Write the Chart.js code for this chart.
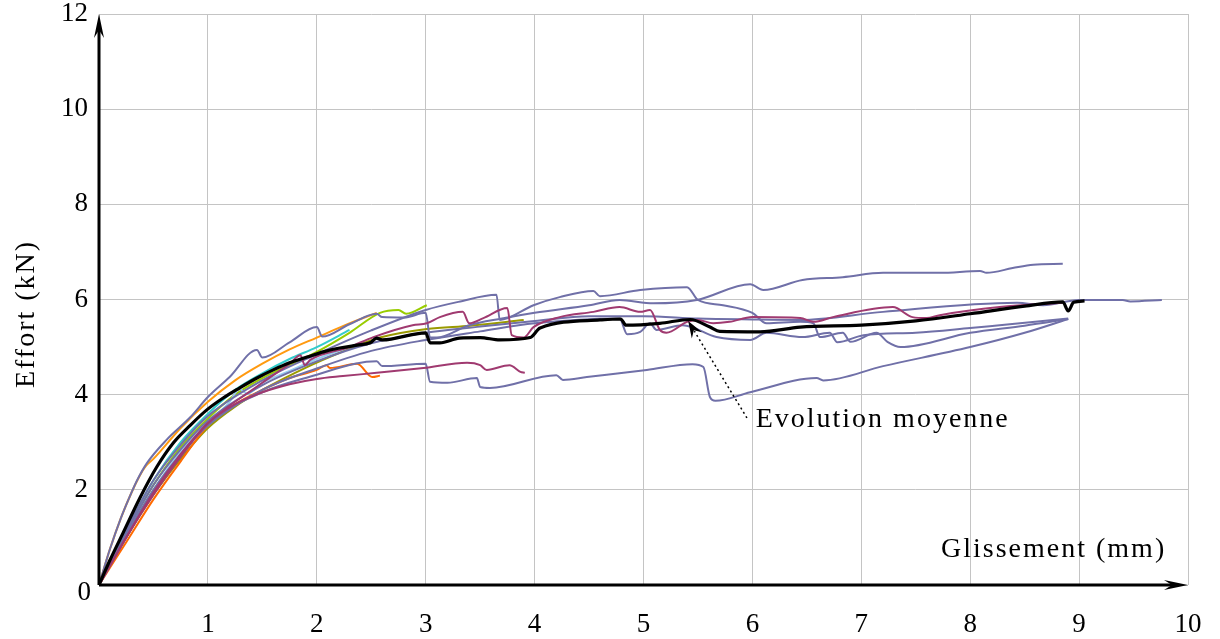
<!DOCTYPE html>
<html>
<head>
<meta charset="utf-8">
<script src="https://cdn.jsdelivr.net/npm/chart.js@4.4.0/dist/chart.umd.min.js"></script>
<style>
  html, body { margin: 0; padding: 0; background: #fff; }
  #wrap { width: 1220px; height: 639px; }
</style>
</head>
<body>
<div id="wrap"><canvas id="myChart" width="1220" height="639"></canvas></div>
<script>
// axes
const xMax = 10;
const yMax = 12;
const xStep = 1;
const yStep = 2;

// each curve: [glissement (mm), effort (kN)]
const meanCurve = [[0,0],[0.1,0.52],[0.22,1.09],[0.38,1.85],[0.53,2.48],[0.68,2.98],[0.84,3.36],[0.99,3.68],[1.14,3.93],[1.29,4.14],[1.45,4.35],[1.6,4.52],[1.75,4.67],[1.91,4.79],[2.06,4.9],[2.21,4.98],[2.37,5.04],[2.49,5.09],[2.55,5.19],[2.6,5.15],[3.0,5.3],[3.04,5.09],[3.13,5.09],[3.31,5.19],[3.5,5.2],[3.68,5.15],[3.96,5.2],[4.05,5.4],[4.6,5.57],[4.79,5.59],[4.84,5.46],[5.15,5.5],[5.43,5.58],[5.61,5.42],[5.7,5.33],[6.07,5.32],[6.44,5.42],[7.0,5.46],[7.5,5.55],[8.0,5.7],[8.5,5.86],[8.85,5.95],[8.9,5.76],[8.95,5.94],[9.05,5.97]];

const slate1 = [[0,0],[0.1,0.75],[0.2,1.4],[0.3,1.95],[0.35,2.2],[0.44,2.56],[0.62,3.05],[0.84,3.53],[1.0,3.95],[1.2,4.37],[1.45,4.94],[1.5,4.78],[1.75,5.1],[2.0,5.42],[2.05,5.22],[2.3,5.48],[2.55,5.7],[2.6,5.63],[2.8,5.62],[3.0,5.72],[3.04,5.2],[3.1,5.2],[3.4,5.46],[3.7,5.6],[4.0,5.72],[4.5,5.88],[4.78,5.99],[5.09,5.92],[5.49,5.99],[5.98,6.32],[6.1,6.2],[6.46,6.41],[6.83,6.47],[7.2,6.56],[7.72,6.56],[8.09,6.6],[8.15,6.56],[8.39,6.66],[8.58,6.73],[8.85,6.75]];
const slate2 = [[0,0],[0.25,1.15],[0.5,2.2],[0.75,2.95],[1.0,3.55],[1.5,4.3],[2.0,4.85],[2.5,5.35],[3.0,5.78],[3.3,5.95],[3.65,6.1],[3.68,5.57],[3.99,5.88],[4.23,6.05],[4.54,6.18],[4.6,6.07],[4.97,6.2],[5.4,6.26],[5.5,5.99],[5.73,5.88],[6.0,5.72],[6.13,5.5],[6.44,5.53],[6.56,5.5],[6.62,5.21],[6.83,5.3],[6.9,5.11],[7.14,5.3],[7.24,5.11],[7.36,5.0],[8.0,5.3],[8.5,5.45],[8.9,5.59]];
const slate3 = [[0,0],[0.25,1.1],[0.5,2.1],[0.75,2.85],[1.0,3.45],[1.5,4.2],[2.0,4.7],[2.5,5.08],[3.0,5.3],[3.5,5.43],[4.0,5.55],[4.5,5.65],[5.0,5.65],[5.5,5.6],[6.0,5.58],[6.44,5.57],[7.2,5.74],[8.43,5.93],[8.67,5.88],[9.0,5.99],[9.4,5.99],[9.47,5.96],[9.76,5.99]];
const slate4 = [[0,0],[0.25,1.05],[0.5,2.0],[0.75,2.75],[1.0,3.35],[1.5,4.1],[2.0,4.55],[2.5,4.92],[3.0,5.15],[3.5,5.33],[4.0,5.5],[4.78,5.6],[4.85,5.27],[4.97,5.32],[5.06,5.5],[5.12,5.36],[5.36,5.46],[5.67,5.21],[5.98,5.15],[6.13,5.3],[6.46,5.21],[6.71,5.3],[6.78,5.1],[7.02,5.25],[7.5,5.3],[8.0,5.4],[8.27,5.46],[8.9,5.6]];
const slate5 = [[0,0],[0.25,1.0],[0.5,1.95],[0.75,2.7],[1.0,3.4],[1.5,4.05],[2.0,4.42],[2.35,4.65],[2.55,4.7],[2.6,4.6],[3.0,4.65],[3.04,4.27],[3.2,4.25],[3.47,4.35],[3.5,4.16],[3.59,4.14],[4.2,4.41],[4.26,4.31],[4.48,4.37],[5.03,4.52],[5.45,4.64],[5.55,4.58],[5.61,3.95],[5.66,3.87],[5.98,4.05],[6.59,4.35],[6.65,4.3],[7.2,4.6],[8.0,5.0],[8.5,5.3],[8.9,5.59]];

const maroon1 = [[0,0],[0.25,1.0],[0.5,1.95],[0.75,2.75],[1.0,3.4],[1.5,4.25],[1.75,4.65],[1.85,4.83],[1.89,4.62],[1.94,4.73],[2.3,5.0],[2.52,5.21],[2.88,5.46],[3.01,5.5],[3.13,5.63],[3.34,5.74],[3.4,5.5],[3.53,5.61],[3.75,5.82],[3.79,5.25],[3.9,5.2],[3.99,5.42],[4.23,5.63],[4.54,5.74],[4.78,5.84],[4.97,5.74],[5.06,5.78],[5.15,5.36],[5.21,5.3],[5.4,5.53],[5.5,5.57],[5.64,5.5],[5.79,5.53],[6.0,5.63],[6.44,5.61],[6.56,5.53],[6.74,5.63],[7.29,5.84],[7.47,5.63],[7.6,5.61],[7.72,5.67],[8.27,5.84],[8.85,5.93]];
const maroon2 = [[0,0],[0.25,1.0],[0.5,1.9],[0.75,2.7],[1.0,3.4],[1.25,3.8],[1.5,4.05],[1.75,4.22],[2.0,4.33],[2.24,4.39],[2.55,4.46],[2.98,4.56],[3.38,4.67],[3.5,4.62],[3.56,4.52],[3.77,4.62],[3.87,4.48],[3.91,4.46]];

const orange1 = [[0,0],[0.1,0.75],[0.2,1.4],[0.3,1.95],[0.4,2.4],[0.43,2.5],[0.5,2.65],[0.75,3.3],[1.0,3.85],[1.25,4.3],[1.5,4.65],[1.75,4.95],[2.0,5.2],[2.25,5.45],[2.55,5.72]];
const orange2 = [[0,0],[0.25,0.9],[0.5,1.8],[0.75,2.6],[1.0,3.35],[1.25,3.8],[1.5,4.1],[1.75,4.35],[2.0,4.52],[2.09,4.62],[2.12,4.56],[2.37,4.65],[2.51,4.37],[2.58,4.4]];
const cyan1 = [[0,0],[0.25,1.15],[0.5,2.2],[0.75,3.0],[1.0,3.6],[1.25,4.1],[1.5,4.45],[1.75,4.75],[2.0,5.0],[2.3,5.36]];
const lightBlue1 = [[0,0],[0.25,1.05],[0.5,2.0],[0.75,2.8],[1.0,3.4],[1.2,3.85],[1.29,4.12],[1.36,4.02],[1.5,4.25],[1.75,4.5],[2.0,4.75],[2.3,5.0]];
const lime1 = [[0,0],[0.25,1.1],[0.5,2.1],[0.75,2.9],[1.0,3.5],[1.25,4.0],[1.5,4.35],[2.0,4.9],[2.3,5.3],[2.58,5.72],[2.75,5.78],[2.82,5.7],[3.01,5.88]];
const olive1 = [[0,0],[0.25,1.0],[0.5,1.9],[0.75,2.65],[1.0,3.3],[1.25,3.75],[1.5,4.1],[1.91,4.58],[2.21,4.88],[2.58,5.2],[3.01,5.38],[3.41,5.45],[3.9,5.57]];

const curves = [
  { data: meanCurve, color: "#000000", width: 3.2 },
  { data: maroon1, color: "#a03a70", width: 2 },
  { data: maroon2, color: "#a03a70", width: 2 },
  { data: slate1, color: "#7070a8", width: 2 },
  { data: slate2, color: "#7070a8", width: 2 },
  { data: slate3, color: "#7070a8", width: 2 },
  { data: slate4, color: "#7070a8", width: 2 },
  { data: slate5, color: "#7070a8", width: 2 },
  { data: orange1, color: "#ff9a10", width: 2 },
  { data: orange2, color: "#ff6a00", width: 2 },
  { data: cyan1, color: "#33cccc", width: 2 },
  { data: lightBlue1, color: "#99ccf0", width: 2 },
  { data: lime1, color: "#99cc00", width: 2 },
  { data: olive1, color: "#9a9a00", width: 2 },
];

const serif = "'Liberation Serif', 'DejaVu Serif', serif";

function arrowHead(ctx, tx, ty, ang, len, half, inset) {
  const dx = Math.cos(ang), dy = Math.sin(ang);
  ctx.beginPath();
  ctx.moveTo(tx, ty);
  ctx.lineTo(tx - len * dx - half * dy, ty - len * dy + half * dx);
  ctx.lineTo(tx - (len - inset) * dx, ty - (len - inset) * dy);
  ctx.lineTo(tx - len * dx + half * dy, ty - len * dy - half * dx);
  ctx.closePath();
  ctx.fill();
}

// axes with arrows, labels and the annotation
const decorations = {
  id: "decorations",
  afterDraw(chart) {
    const { ctx, scales: { x, y } } = chart;
    const x0 = x.getPixelForValue(0), y0 = y.getPixelForValue(0);
    const xe = x.getPixelForValue(xMax), ye = y.getPixelForValue(yMax);
    ctx.save();
    ctx.strokeStyle = "#000";
    ctx.fillStyle = "#000";
    ctx.lineWidth = 3;
    ctx.beginPath();
    ctx.moveTo(x0, y0); ctx.lineTo(xe - 10, y0);
    ctx.moveTo(x0, y0); ctx.lineTo(x0, ye + 10);
    ctx.stroke();
    arrowHead(ctx, xe, y0, 0, 24, 5, 8);
    arrowHead(ctx, x0, ye, -Math.PI / 2, 24, 5, 8);

    ctx.font = "27px " + serif;
    ctx.textBaseline = "middle";
    ctx.textAlign = "right";
    ctx.fillText("0", x0 - 8, y0 + 8);

    ctx.font = "28px " + serif;
    ctx.letterSpacing = "2px";
    ctx.fillText("Glissement (mm)", x.getPixelForValue(9.8), y.getPixelForValue(0.74));

    ctx.save();
    ctx.translate(27, 314);
    ctx.rotate(-Math.PI / 2);
    ctx.textAlign = "center";
    ctx.fillText("Effort (kN)", 0, 0);
    ctx.restore();

    // annotation "Evolution moyenne"
    const tipX = x.getPixelForValue(5.41), tipY = y.getPixelForValue(5.55);
    const tailX = x.getPixelForValue(5.95), tailY = y.getPixelForValue(3.51);
    const ang = Math.atan2(tipY - tailY, tipX - tailX);
    ctx.lineWidth = 1.5;
    ctx.setLineDash([2, 3]);
    ctx.beginPath();
    ctx.moveTo(tailX, tailY);
    ctx.lineTo(tipX - 12 * Math.cos(ang), tipY - 12 * Math.sin(ang));
    ctx.stroke();
    ctx.setLineDash([]);
    arrowHead(ctx, tipX, tipY, ang, 17, 6, 6);
    ctx.textAlign = "left";
    ctx.fillText("Evolution moyenne", x.getPixelForValue(6.03), y.getPixelForValue(3.47));
    ctx.restore();
  },
};

new Chart(document.getElementById("myChart"), {
  type: "scatter",
  data: {
    datasets: curves.map((c) => ({
      data: c.data.map((p) => ({ x: p[0], y: p[1] })),
      borderColor: c.color,
      borderWidth: c.width,
      showLine: true,
      pointRadius: 0,
      fill: false,
      cubicInterpolationMode: "monotone",
      borderJoinStyle: "round",
    })),
  },
  options: {
    responsive: false,
    animation: false,
    devicePixelRatio: 1,
    layout: { padding: { top: 14, right: 32, left: 0, bottom: 0 } },
    plugins: { legend: { display: false }, tooltip: { enabled: false } },
    scales: {
      x: {
        type: "linear",
        min: 0,
        max: xMax,
        border: { display: false },
        grid: { color: "#c4c4c4", lineWidth: 1, drawTicks: false },
        ticks: {
          stepSize: xStep,
          padding: 24,
          color: "#000",
          font: { family: serif, size: 27 },
          callback: (v) => (v === 0 ? "" : v),
        },
        afterFit: (s) => { s.height = 54; s.paddingLeft = 0; s.paddingRight = 0; },
      },
      y: {
        min: 0,
        max: yMax,
        border: { display: false },
        grid: { color: "#c4c4c4", lineWidth: 1, drawTicks: false },
        ticks: {
          stepSize: yStep,
          padding: 11,
          color: "#000",
          font: { family: serif, size: 27 },
          callback: (v) => (v === 0 ? "" : v),
        },
        afterFit: (s) => { s.width = 99; s.paddingTop = 0; s.paddingBottom = 0; },
      },
    },
  },
  plugins: [decorations],
});
</script>
</body>
</html>
